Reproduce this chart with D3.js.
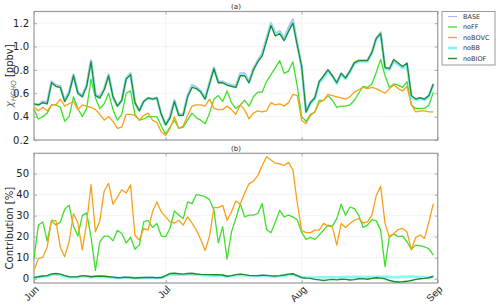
<!DOCTYPE html>
<html><head><meta charset="utf-8">
<script src="https://cdn.jsdelivr.net/npm/d3@7"></script>
<style>
html,body{margin:0;padding:0;background:#fff;}
svg{display:block;font-family:"DejaVu Sans",sans-serif;}
</style></head>
<body><svg id="c" width="500" height="307"></svg>
<script>
// ---- data (daily, 1 Jun .. 31 Aug) ----
const startDate = Date.UTC(2013, 5, 1);
const monthTicks = ["2013-06-01", "2013-07-01", "2013-08-01", "2013-09-01"];
const seriesNames = ["BASE", "noFF", "noBOVC", "noBB", "noBIOF"];
const seriesColors = ["#b3b3f5", "#3fe02a", "#f7a11a", "#7ff5f5", "#1f8c2b"];

const base = [0.51,0.50,0.53,0.52,0.70,0.67,0.66,0.54,0.61,0.76,0.61,0.58,0.67,0.88,0.59,0.57,0.64,0.76,0.57,0.49,0.54,0.73,0.77,0.52,0.45,0.53,0.56,0.55,0.56,0.42,
  0.33,0.40,0.54,0.42,0.42,0.58,0.67,0.65,0.62,0.56,0.69,0.82,0.70,0.70,0.68,0.67,0.66,0.77,0.77,0.70,0.81,0.88,0.94,1.07,1.20,1.11,1.13,1.07,1.16,1.23,1.02,
  0.83,0.44,0.52,0.56,0.70,0.74,0.80,0.75,0.69,0.77,0.73,0.79,0.86,0.88,0.88,0.88,0.95,1.07,1.12,0.82,0.81,0.88,0.85,0.82,0.85,0.57,0.55,0.56,0.55,0.58,0.68];
const noFF = [0.46,0.38,0.40,0.43,0.50,0.50,0.48,0.36,0.40,0.57,0.47,0.40,0.47,0.72,0.56,0.47,0.51,0.60,0.46,0.37,0.42,0.60,0.62,0.42,0.37,0.38,0.40,0.40,0.40,0.32,
  0.25,0.31,0.37,0.30,0.31,0.37,0.43,0.39,0.37,0.34,0.43,0.55,0.58,0.53,0.62,0.52,0.47,0.50,0.54,0.49,0.57,0.61,0.61,0.70,0.76,0.82,0.88,0.77,0.79,0.87,0.66,
  0.40,0.36,0.42,0.44,0.54,0.54,0.58,0.54,0.48,0.49,0.49,0.50,0.54,0.60,0.66,0.65,0.68,0.78,0.89,0.75,0.65,0.68,0.67,0.65,0.70,0.50,0.47,0.47,0.47,0.50,0.61];
const noBOVC = [0.48,0.45,0.48,0.45,0.50,0.50,0.55,0.49,0.51,0.53,0.46,0.50,0.49,0.48,0.46,0.42,0.37,0.40,0.36,0.30,0.31,0.42,0.42,0.41,0.37,0.41,0.43,0.37,0.35,0.27,
  0.24,0.30,0.40,0.30,0.32,0.41,0.49,0.50,0.50,0.49,0.55,0.47,0.46,0.46,0.49,0.46,0.42,0.50,0.46,0.38,0.43,0.45,0.44,0.45,0.52,0.50,0.51,0.49,0.52,0.59,0.58,
  0.37,0.34,0.41,0.44,0.52,0.54,0.59,0.58,0.57,0.56,0.55,0.57,0.61,0.63,0.65,0.64,0.65,0.64,0.62,0.60,0.64,0.67,0.64,0.62,0.66,0.50,0.44,0.45,0.45,0.44,0.44];
const noBB = [0.51,0.50,0.52,0.51,0.69,0.66,0.65,0.53,0.60,0.75,0.60,0.57,0.66,0.87,0.58,0.56,0.63,0.75,0.57,0.49,0.54,0.73,0.77,0.52,0.45,0.53,0.56,0.55,0.56,0.42,
  0.33,0.39,0.53,0.41,0.41,0.57,0.66,0.64,0.61,0.55,0.68,0.81,0.69,0.69,0.67,0.66,0.65,0.76,0.76,0.69,0.80,0.87,0.93,1.06,1.19,1.10,1.12,1.06,1.14,1.21,1.01,
  0.82,0.44,0.51,0.55,0.69,0.73,0.79,0.74,0.68,0.76,0.72,0.78,0.85,0.87,0.87,0.87,0.94,1.06,1.11,0.81,0.80,0.87,0.84,0.81,0.84,0.56,0.54,0.55,0.54,0.57,0.67];
const noBIOF = [0.51,0.50,0.52,0.51,0.69,0.66,0.65,0.53,0.60,0.75,0.60,0.57,0.66,0.87,0.58,0.56,0.63,0.75,0.57,0.49,0.54,0.72,0.76,0.52,0.45,0.53,0.56,0.55,0.56,0.42,
  0.33,0.39,0.53,0.41,0.41,0.57,0.65,0.64,0.61,0.55,0.68,0.81,0.69,0.69,0.67,0.66,0.65,0.75,0.75,0.69,0.80,0.87,0.92,1.05,1.18,1.09,1.11,1.05,1.13,1.20,1.01,
  0.83,0.44,0.52,0.56,0.70,0.75,0.80,0.75,0.69,0.77,0.73,0.79,0.86,0.88,0.88,0.88,0.95,1.07,1.11,0.82,0.81,0.89,0.86,0.83,0.86,0.58,0.55,0.56,0.55,0.58,0.68];

const cFF = [9.7,25.5,27,18,27.5,25.5,27,33,35,25,20.3,30,31.3,19.7,4,17.6,20.3,20.3,18,23,21.5,17,19.7,14,16,27,27.8,24.4,26.3,20.3,
  20,24,32.2,30.2,28.6,36.5,35.7,40,39.6,39,37.6,32.5,17.1,24.7,9.3,22.3,28.6,35.7,29.4,30.2,30.2,31,35.7,23.4,21.9,27,32.5,29.4,30.2,29.4,28,
  22,18.7,19.7,18.7,20.8,23.1,25.5,25,28.6,35.4,30.2,34.1,33.3,30.2,24.4,25.5,28.1,27.5,23.1,5.8,20.3,21.2,20,20.3,17.6,14,16,15.7,15.2,14.2,11.3];
const cBOVC = [4,9.7,10.2,15,27.8,27.5,15,10.5,17.6,31,26.5,13.7,26.5,44.8,22.3,27.5,41.7,45.4,35.4,38.8,42.3,40.7,44.6,20.7,18.4,23.9,23.1,31.8,36.5,31.8,
  29.4,27,26.5,27.8,25.5,29.4,26.5,23.1,18.7,13.4,20.3,33.8,33.8,34.9,27.8,31.8,36.9,35.4,40.7,45.1,46.4,49,53.8,58,56.4,54.9,54.6,53.8,55.3,51.7,36,
  23,21.9,21.9,23.1,23.1,26.3,25,24.7,16,26.3,24.4,26.3,27.8,28.6,26.5,27,30.2,39.6,43.9,26.3,19.7,21.5,23.4,23.9,22.3,13.7,19.7,20.8,19.2,27,35.7];
const cBB = [0.3,0.8,1.0,1.2,1.8,2.0,1.8,1.2,0.8,0.7,0.8,1.2,1.0,0.8,0.9,1.0,0.9,0.8,0.6,0.4,0.4,0.6,0.5,0.3,0.4,0.4,0.5,0.5,0.4,0.5,
  1.2,2.0,2.1,2.0,1.8,2.0,2.1,1.9,1.7,1.6,1.6,1.5,1.6,1.5,1.0,1.2,1.6,1.8,1.6,1.3,1.2,1.2,1.4,1.3,1.1,1.0,1.2,1.5,1.8,2.0,1.2,
  0.8,0.7,0.6,0.6,0.7,0.8,0.7,0.8,0.7,0.8,0.9,0.8,0.9,1.0,0.9,0.8,0.8,0.9,1.0,1.1,0.9,0.7,0.8,0.9,1.0,1.1,1.0,0.8,0.7,0.6,1.0];
const cBIOF = [0.5,1.0,1.3,1.5,2.3,2.5,2.2,1.5,1.0,0.9,1.0,1.5,1.3,1.0,1.2,1.3,1.2,1.0,0.8,0.5,0.6,0.8,0.6,0.4,0.5,0.6,0.6,0.6,0.5,0.6,
  1.5,2.5,2.6,2.4,2.2,2.5,2.6,2.3,2.1,2.0,2.0,1.9,2.0,1.8,1.2,1.5,2.0,2.2,2.0,1.6,1.5,1.5,1.7,1.6,1.4,1.3,1.5,1.8,2.2,2.4,1.5,
  0.5,0.3,0.2,-0.3,-0.5,-0.8,-0.5,-0.3,-0.5,-0.2,-0.3,-0.6,-0.4,0.0,0.1,-0.2,0.2,0.5,0.3,0.0,-0.8,-1.3,-1.5,-1.4,-1.2,-0.8,-0.3,0.0,0.2,0.5,1.2];

const yTicksA = [0.2, 0.4, 0.6, 0.8, 1.0, 1.2];
const yTicksB = [0, 10, 20, 30, 40, 50];

// ---- layout ----
const svg = d3.select("#c");
const L = 34, R = 437.7;
const pA = {top: 11.5, bottom: 140};
const pB = {top: 153.3, bottom: 283};
const dates = base.map((_, i) => new Date(startDate + i * 864e5));
const x = d3.scaleUtc().domain([new Date(Date.UTC(2013,5,1)), new Date(Date.UTC(2013,8,1))]).range([L, R]);
const tickDates = monthTicks.map(s => new Date(s + "T00:00:00Z"));
const yA = d3.scaleLinear().domain([0.2, 1.3]).range([pA.bottom, pA.top]);
const yB = d3.scaleLinear().domain([-2, 59.6]).range([pB.bottom, pB.top]);

function panel(p, y, yTicks, fmt, showX) {
  const g = svg.append("g");
  g.selectAll(".gy").data(yTicks).join("line")
    .attr("x1", L).attr("x2", R).attr("y1", d => y(d)).attr("y2", d => y(d))
    .attr("stroke", "#d8d8d8").attr("stroke-width", 0.7).attr("stroke-dasharray", "1,1.5");
  g.selectAll(".gx").data(tickDates.slice(1, 3)).join("line")
    .attr("x1", d => x(d)).attr("x2", d => x(d)).attr("y1", p.top).attr("y2", p.bottom)
    .attr("stroke", "#d8d8d8").attr("stroke-width", 0.7).attr("stroke-dasharray", "1,1.5");
  const ax = g.append("g").attr("transform", `translate(${L},0)`)
    .call(d3.axisLeft(y).tickValues(yTicks).tickFormat(fmt).tickSize(-3).tickPadding(5));
  const axR = g.append("g").attr("transform", `translate(${R},0)`)
    .call(d3.axisRight(y).tickValues(yTicks).tickFormat("").tickSize(-3));
  const axB = g.append("g").attr("transform", `translate(0,${p.bottom})`)
    .call(d3.axisBottom(x).tickValues(tickDates).tickFormat(showX ? d3.utcFormat("%b") : "").tickSize(-3).tickPadding(3));
  const axT = g.append("g").attr("transform", `translate(0,${p.top})`)
    .call(d3.axisTop(x).tickValues(tickDates).tickFormat("").tickSize(-3));
  [ax, axR, axB, axT].forEach(a => {
    a.select(".domain").remove();
    a.selectAll(".tick line").attr("stroke", "#777").attr("stroke-width", 0.6);
  });
  ax.selectAll("text").attr("font-size", 10).attr("fill", "#222").attr("font-family", "DejaVu Sans");
  if (showX) {
    axB.selectAll("text").attr("font-size", 10).attr("fill", "#222")
      .attr("text-anchor", "end").attr("dy", 0).attr("y", 0)
      .attr("transform", "translate(5,7) rotate(-45)");
  }
  g.append("rect").attr("x", L).attr("y", p.top).attr("width", R - L).attr("height", p.bottom - p.top)
    .attr("fill", "none").attr("stroke", "#9a9a9a").attr("stroke-width", 1.2);
  return g;
}

const gA = panel(pA, yA, yTicksA, d3.format(".1f"), false);
const gB = panel(pB, yB, yTicksB, d3.format("d"), true);

function drawLine(g, y, vals, color, w, op) {
  const line = d3.line().x((d, i) => x(dates[i])).y(d => y(d));
  g.append("path").datum(vals).attr("d", line).attr("fill", "none")
    .attr("stroke", color).attr("stroke-width", w).attr("stroke-opacity", op || 1)
    .attr("stroke-linejoin", "round");
}
drawLine(gA, yA, base, seriesColors[0], 2.4, 0.9);
drawLine(gA, yA, noFF, seriesColors[1], 1.3);
drawLine(gA, yA, noBOVC, seriesColors[2], 1.3);
drawLine(gA, yA, noBB, seriesColors[3], 2.2, 0.9);
drawLine(gA, yA, noBIOF, seriesColors[4], 1.3);
drawLine(gB, yB, cFF, seriesColors[1], 1.3);
drawLine(gB, yB, cBOVC, seriesColors[2], 1.3);
drawLine(gB, yB, cBB, seriesColors[3], 2.6, 0.9);
drawLine(gB, yB, cBIOF, seriesColors[4], 1.4);

svg.append("text").attr("x", 236).attr("y", 8.5).attr("text-anchor", "middle").attr("font-size", 7).attr("fill", "#222").text("(a)");
svg.append("text").attr("x", 236).attr("y", 150.5).attr("text-anchor", "middle").attr("font-size", 7).attr("fill", "#222").text("(b)");

const la = svg.append("text").attr("transform", `translate(13,${(pA.top + pA.bottom) / 2}) rotate(-90)`)
  .attr("text-anchor", "middle").attr("font-size", 10).attr("fill", "#222");
la.append("tspan").attr("font-style", "italic").attr("fill", "#666").text("χ");
la.append("tspan").attr("font-style", "italic").attr("fill", "#666").attr("font-size", 7).attr("dy", 2.5).text("HCHO");
la.append("tspan").attr("dy", -2.5).text(" [ppbv]");
svg.append("text").attr("transform", `translate(13,${(yB(0) + yB(50)) / 2 + 2}) rotate(-90)`)
  .attr("text-anchor", "middle").attr("font-size", 10).attr("fill", "#222").text("Contribution  [%]");

const lg = svg.append("g");
lg.append("rect").attr("x", 442).attr("y", 11.5).attr("width", 53).attr("height", 53.5)
  .attr("fill", "#fff").attr("stroke", "#9a9a9a").attr("stroke-width", 1);
const lw = [1, 1.3, 1.3, 2.6, 1.4];
seriesNames.forEach((n, i) => {
  const yy = 16.5 + i * 10.5;
  lg.append("line").attr("x1", 448).attr("x2", 457).attr("y1", yy).attr("y2", yy)
    .attr("stroke", seriesColors[i]).attr("stroke-width", lw[i]);
  lg.append("text").attr("x", 463).attr("y", yy + 2.3).attr("font-size", 6.5).attr("fill", "#333").text(n);
});
</script></body></html>
